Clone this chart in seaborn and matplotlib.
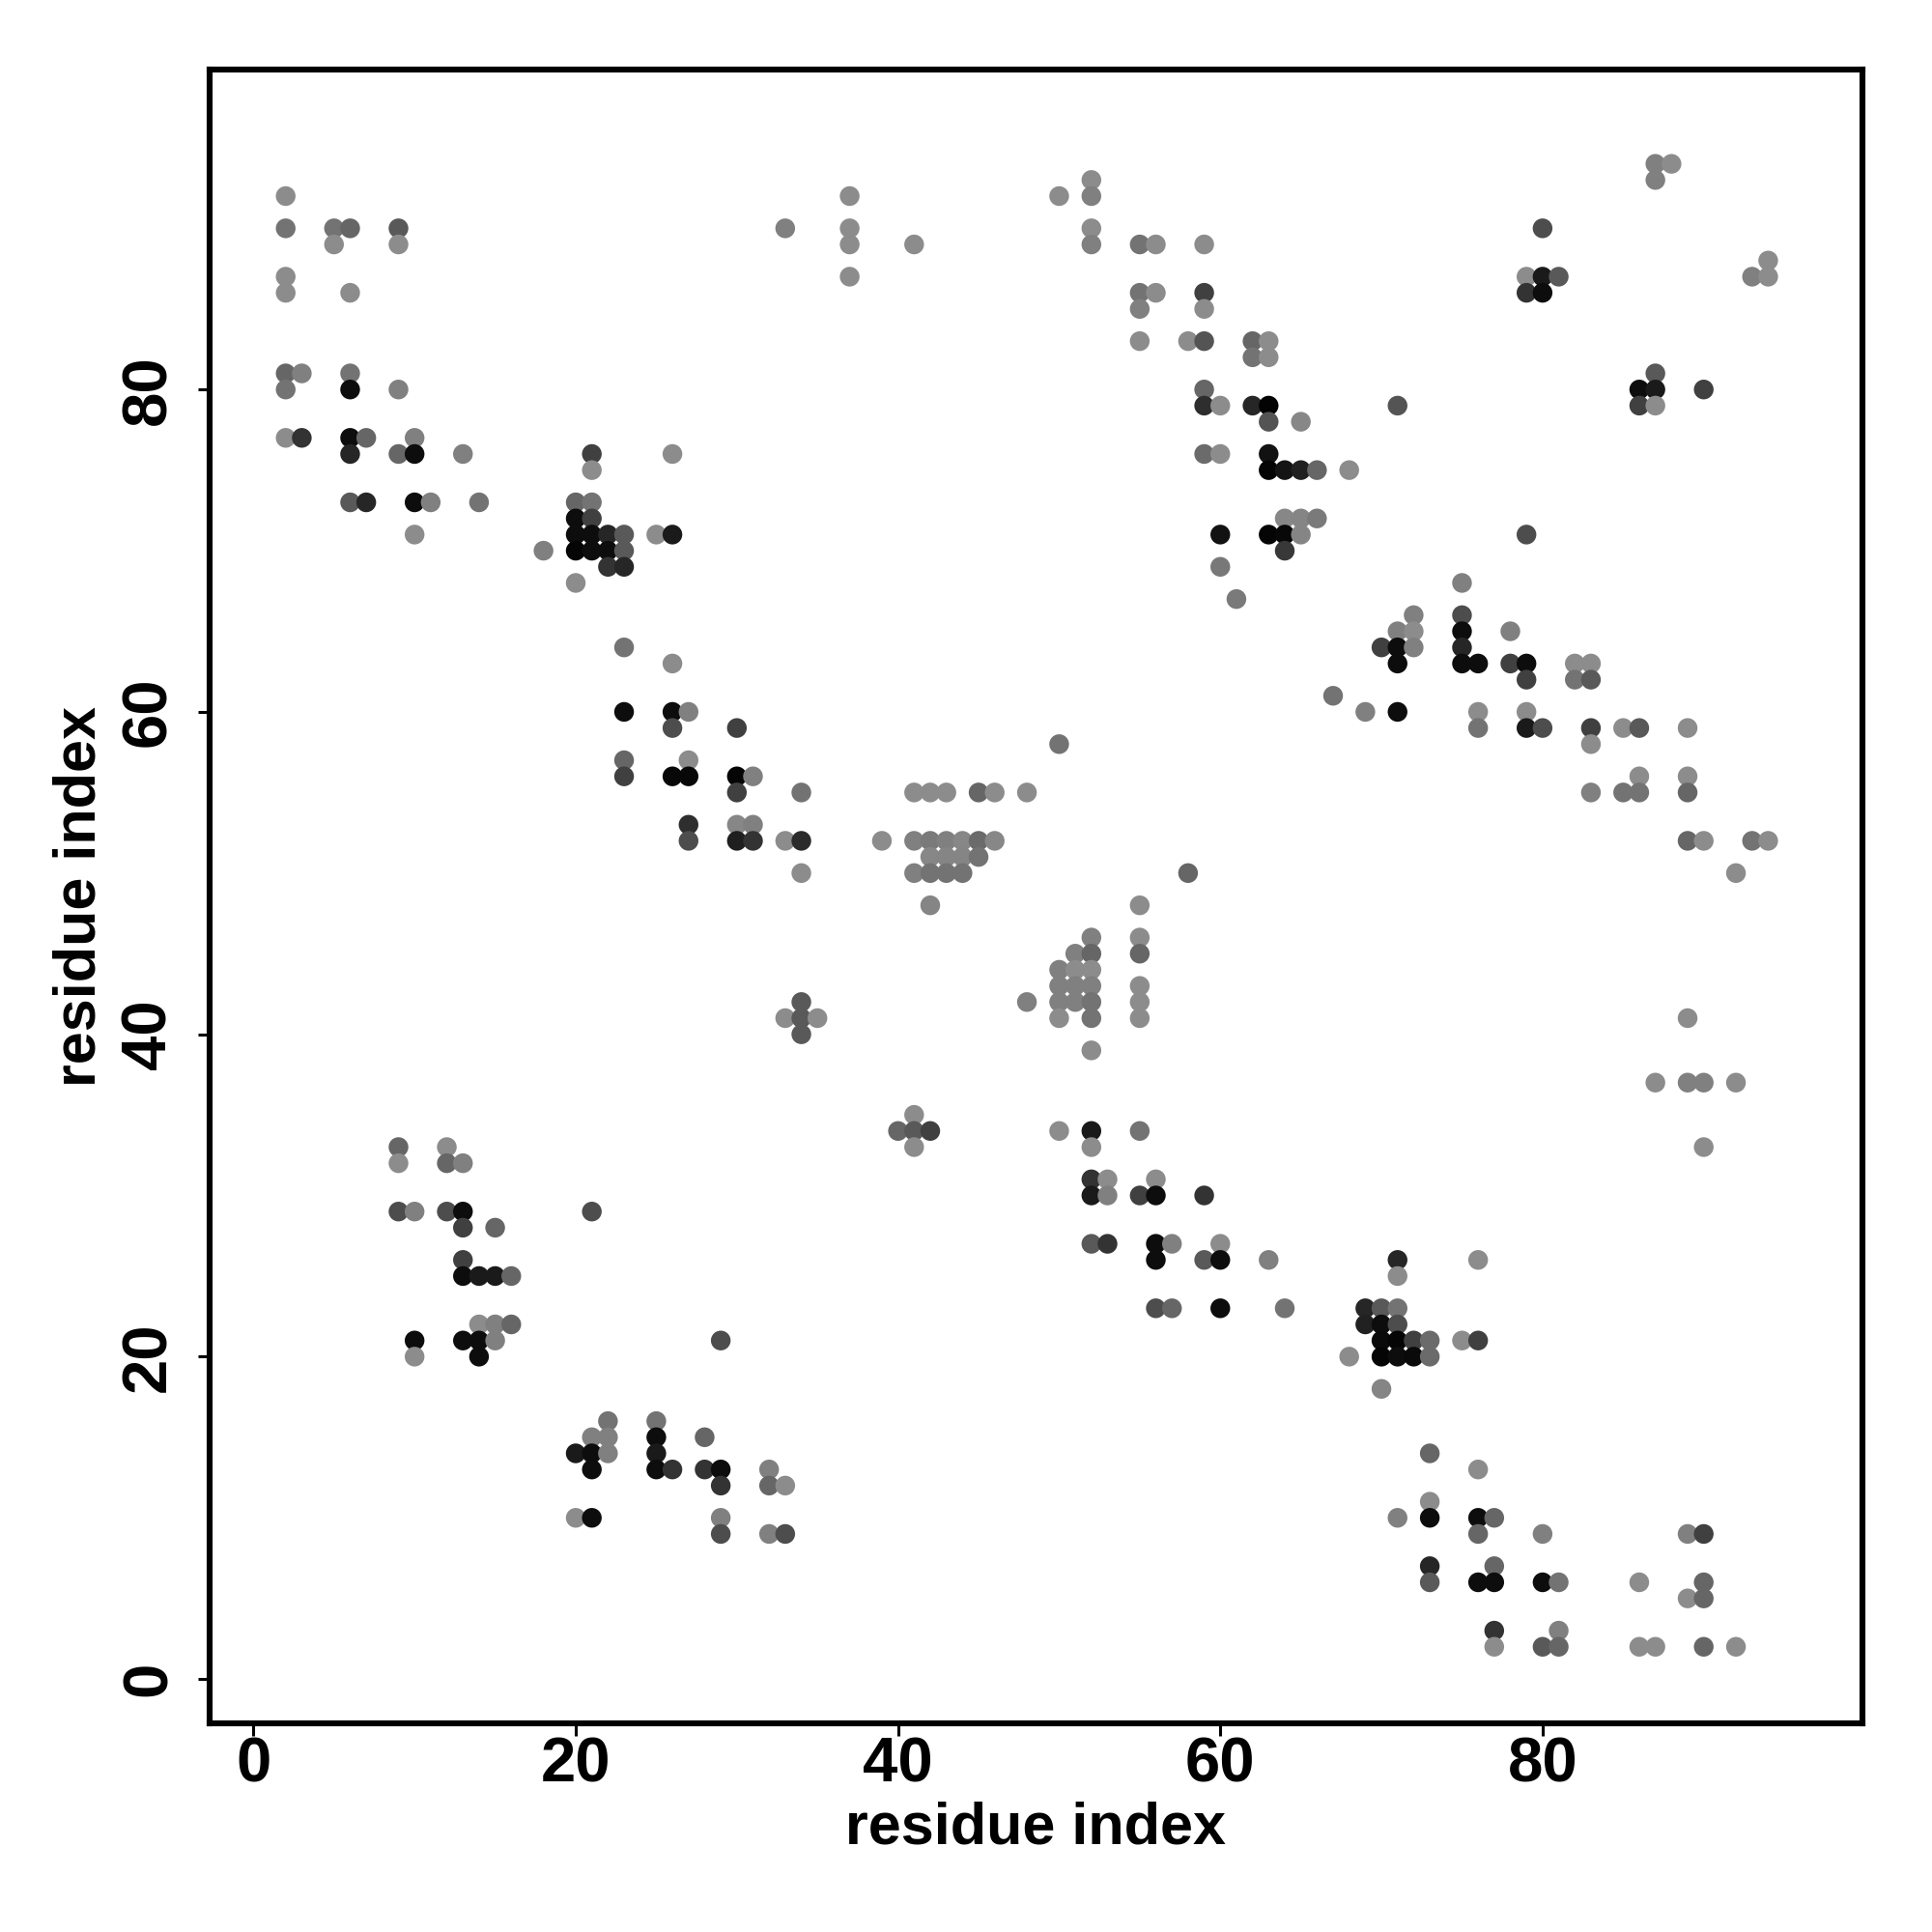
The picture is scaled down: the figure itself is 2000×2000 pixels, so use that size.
#!/usr/bin/env python3
"""Residue contact map drawn as grey dots."""

import pandas as pd
import matplotlib
matplotlib.use('Agg')
import matplotlib.pyplot as plt
import seaborn as sns

# y value of each row of dots, then the x values and grey level in that row
row_y = [94, 93, 92, 90, 89, 88, 87, 86, 85, 83, 82, 81, 80, 79, 78, 77, 76, 75, 73, 72, 71, 70,
         69, 68, 67, 66, 65, 64, 63, 62, 61, 60, 59, 58, 57, 56, 55, 53, 52, 51, 50, 48, 46, 45,
         44, 43, 42, 41, 40, 39, 37, 35, 34, 33, 32, 31, 30, 29, 28, 27, 26, 25, 23, 22, 21, 20,
         18, 16, 15, 14, 13, 12, 11, 10, 9, 7, 6, 5, 3, 2]

row_x = [
    [87, 88], [52, 87], [2, 37, 50, 52],
    [2, 5, 6, 9, 33, 37, 52, 80],
    [5, 9, 37, 41, 52, 55, 56, 59],
    [94],
    [2, 37, 79, 80, 81, 93, 94],
    [2, 6, 55, 56, 59, 79, 80],
    [55, 59],
    [55, 58, 59, 62, 63],
    [62, 63],
    [2, 3, 6, 87],
    [2, 6, 9, 59, 86, 87, 90],
    [59, 60, 62, 63, 71, 86, 87],
    [63, 65],
    [2, 3, 6, 7, 10],
    [6, 9, 10, 13, 21, 26, 59, 60, 63],
    [21, 63, 64, 65, 66, 68],
    [6, 7, 10, 11, 14, 20, 21],
    [20, 21, 64, 65, 66],
    [10, 20, 21, 22, 23, 25, 26, 60, 63, 64, 65, 79],
    [18, 20, 21, 22, 23, 64],
    [22, 23, 60],
    [20, 75],
    [61],
    [72, 75],
    [71, 72, 75, 78],
    [23, 70, 71, 72, 75],
    [26, 71, 75, 76, 78, 79, 82, 83],
    [79, 82, 83],
    [67],
    [23, 26, 27, 69, 71, 76, 79],
    [26, 30, 76, 79, 80, 83, 85, 86, 89],
    [50, 83],
    [23, 27],
    [23, 26, 27, 30, 31, 86, 89],
    [30, 34, 41, 42, 43, 45, 46, 48, 83, 85, 86, 89],
    [27, 30, 31],
    [27, 30, 31, 33, 34, 39, 41, 42, 43, 44, 45, 46, 89, 90, 93, 94],
    [42, 43, 44, 45],
    [34, 41, 42, 43, 44, 58, 92],
    [42, 55],
    [52, 55],
    [51, 52, 55],
    [50, 51, 52],
    [50, 51, 52, 55],
    [34, 48, 50, 51, 52, 55],
    [33, 34, 35, 50, 52, 55, 89],
    [34],
    [52],
    [87, 89, 90, 92],
    [41],
    [40, 41, 42, 50, 52, 55],
    [9, 12, 41, 52, 90],
    [9, 12, 13],
    [52, 53, 56],
    [52, 53, 55, 56, 59],
    [9, 10, 12, 13, 21],
    [13, 15],
    [52, 53, 56, 57, 60],
    [13, 56, 59, 60, 63, 71, 76],
    [13, 14, 15, 16, 71],
    [56, 57, 60, 64, 69, 70, 71],
    [14, 15, 16, 69, 70, 71],
    [10, 13, 14, 15, 29, 70, 71, 72, 73, 75, 76],
    [10, 14, 68, 70, 71, 72, 73],
    [70],
    [22, 25],
    [21, 22, 25, 28],
    [20, 21, 22, 25, 73],
    [21, 25, 26, 28, 29, 32, 76],
    [29, 32, 33],
    [73],
    [20, 21, 29, 71, 73, 76, 77],
    [29, 32, 33, 76, 80, 89, 90],
    [73, 77],
    [73, 76, 77, 80, 81, 86, 90],
    [89, 90],
    [77, 81],
    [77, 80, 81, 86, 87, 90, 92],
]

row_shade = [
    [.50, .55], [.55, .50], [.55, .55, .55, .50],
    [.45, .45, .40, .35, .50, .55, .55, .30],
    [.55, .55, .55, .55, .50, .45, .55, .55],
    [.55],
    [.55, .55, .55, .10, .35, .50, .55],
    [.55, .55, .45, .55, .25, .20, .05],
    [.50, .55],
    [.55, .55, .33, .40, .55],
    [.45, .55],
    [.40, .50, .45, .35],
    [.45, .05, .50, .40, .05, .10, .25],
    [.18, .55, .15, .01, .33, .25, .55],
    [.33, .53],
    [.55, .20, .05, .40, .50],
    [.15, .40, .05, .50, .25, .55, .42, .55, .07],
    [.55, .02, .08, .13, .40, .55],
    [.35, .15, .05, .50, .45, .40, .45],
    [.05, .25, .53, .52, .48],
    [.55, .05, .05, .15, .35, .55, .10, .07, .02, .03, .52, .30],
    [.50, .02, .05, .05, .35, .22],
    [.20, .15, .47],
    [.55, .50],
    [.48],
    [.50, .30],
    [.50, .55, .05, .50],
    [.45, .25, .05, .50, .15],
    [.55, .05, .05, .05, .25, .05, .55, .55],
    [.25, .45, .35],
    [.45],
    [.05, .05, .50, .50, .05, .55, .55],
    [.30, .25, .45, .10, .30, .25, .55, .35, .55],
    [.45, .55],
    [.40, .55],
    [.25, .03, .03, .02, .50, .55, .55],
    [.25, .45, .55, .55, .55, .40, .55, .55, .50, .45, .45, .40],
    [.18, .53, .50],
    [.30, .12, .20, .55, .17, .55, .50, .48, .50, .53, .42, .53, .40, .55, .45, .55],
    [.53, .52, .52, .45],
    [.55, .50, .45, .45, .45, .40, .55],
    [.52, .55],
    [.50, .55],
    [.50, .40, .40],
    [.50, .55, .55],
    [.50, .50, .50, .55],
    [.35, .50, .50, .50, .45, .55],
    [.55, .35, .55, .55, .45, .55, .55],
    [.35],
    [.55],
    [.55, .50, .50, .55],
    [.55],
    [.40, .35, .25, .55, .10, .45],
    [.40, .55, .55, .55, .55],
    [.55, .40, .50],
    [.20, .55, .55],
    [.10, .50, .25, .05, .20],
    [.30, .50, .30, .05, .30],
    [.25, .40],
    [.35, .20, .05, .50, .55],
    [.25, .05, .35, .05, .50, .15, .55],
    [.05, .10, .10, .40, .55],
    [.30, .40, .05, .45, .15, .35, .45],
    [.55, .50, .40, .13, .05, .30],
    [.05, .05, .05, .50, .30, .04, .02, .25, .42, .55, .25],
    [.55, .05, .55, .02, .05, .04, .42],
    [.52],
    [.45, .45],
    [.50, .50, .05, .40],
    [.10, .05, .50, .10, .40],
    [.05, .05, .20, .20, .05, .50, .55],
    [.20, .40, .55],
    [.55],
    [.55, .05, .50, .50, .05, .05, .40],
    [.30, .50, .30, .40, .50, .50, .25],
    [.15, .40],
    [.35, .05, .05, .05, .45, .55, .40],
    [.55, .40],
    [.20, .50],
    [.55, .35, .40, .55, .55, .40, .55],
]

x_ticks = [0, 20, 40, 60, 80]
y_ticks = [0, 20, 40, 60, 80]
axis_label = 'residue index'

# flatten the rows into a table for seaborn
records = []
for y, xs, shades in zip(row_y, row_x, row_shade):
    for x, g in zip(xs, shades):
        records.append({'x': x, 'y': y, 'shade': g})
df = pd.DataFrame(records)

sns.set_style('white')
plt.rcParams['font.family'] = ['Liberation Sans', 'DejaVu Sans']
plt.rcParams['font.weight'] = 'bold'
plt.rcParams['text.color'] = 'black'
plt.rcParams['axes.labelcolor'] = 'black'
plt.rcParams['xtick.color'] = 'black'
plt.rcParams['ytick.color'] = 'black'

fig = plt.figure(figsize=(10, 10), dpi=200)
ax = fig.add_axes([216.5 / 2000, 1 - 1784 / 2000, (1928 - 216.5) / 2000, (1784 - 72) / 2000])

palette = {g: str(g) for g in df['shade'].unique()}
sns.scatterplot(data=df, x='x', y='y', hue='shade', palette=palette, s=54, linewidth=0,
                legend=False, ax=ax, zorder=3)

ax.set_xlim(-2.75, 99.85)
ax.set_ylim(-2.75, 99.85)
ax.set_xticks(x_ticks)
ax.set_yticks(y_ticks)
ax.tick_params(axis='both', length=4.5, width=1.1, color='black', labelsize=23.5,
               bottom=True, left=True)
ax.tick_params(axis='x', pad=0.5)
ax.tick_params(axis='y', pad=7)
plt.setp(ax.get_yticklabels(), rotation=90, va='center')
ax.set_xlabel(axis_label, fontsize=22, fontweight='bold')
ax.set_ylabel(axis_label, fontsize=22, fontweight='bold')
ax.xaxis.set_label_coords(0.5, -0.047)
ax.yaxis.set_label_coords(-0.0615, 0.5)

for side in ax.spines.values():
    side.set_visible(True)
    side.set_color('black')
    side.set_linewidth(2.2)

plt.savefig('out.png', dpi=200, facecolor='white')
